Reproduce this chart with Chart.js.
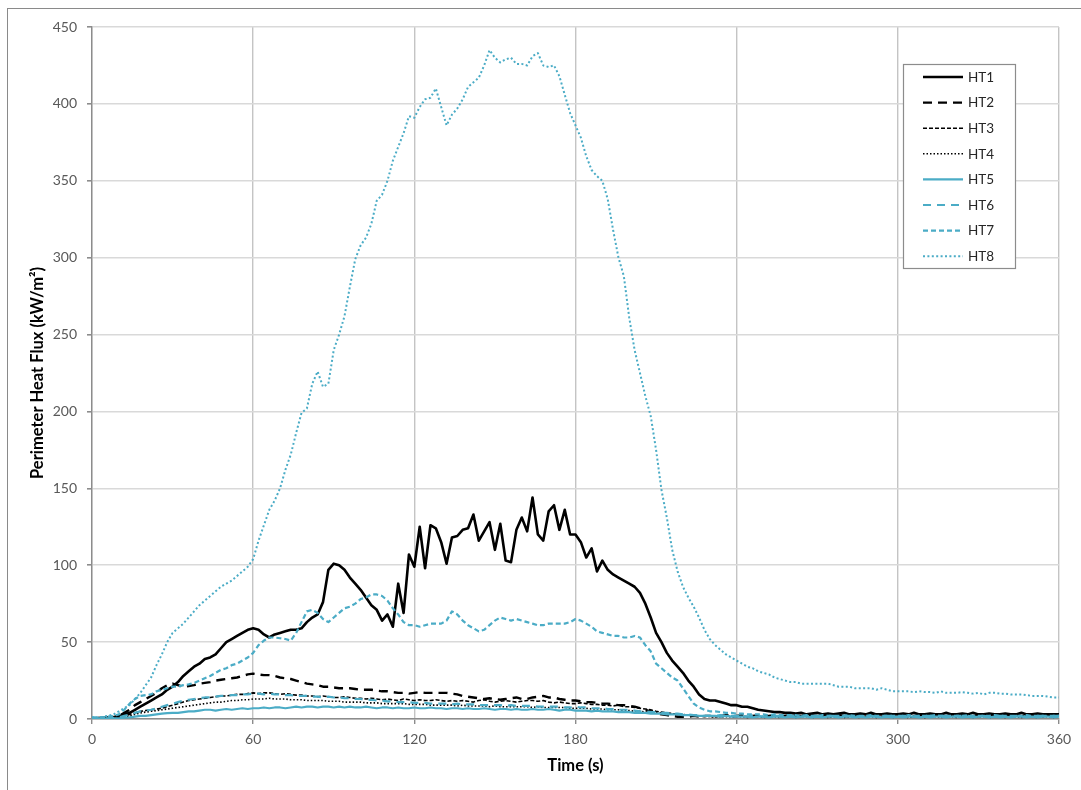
<!DOCTYPE html>
<html>
<head>
<meta charset="utf-8">
<script src="https://cdn.jsdelivr.net/npm/chart.js@4.4.1/dist/chart.umd.min.js"></script>
<style>
  html, body { margin: 0; padding: 0; background: #ffffff; }
  #wrap { position: relative; width: 1081px; height: 790px; overflow: hidden; }
  #frame { position: absolute; left: 7px; top: 8px; right: -2px; bottom: -2px;
           border-left: 1px solid #8a8a8a; border-top: 1px solid #8a8a8a; pointer-events: none; }
  canvas { display: block; }
</style>
</head>
<body>
<div id="wrap">
  <canvas id="chart" width="1081" height="790"></canvas>
  <div id="frame"></div>
</div>
<script>
// Sampling grid: one reading every 2 s from 0 to 360 s
const seconds = Array.from({ length: 181 }, (_, i) => i * 2);

const seriesNames = ['HT1', 'HT2', 'HT3', 'HT4', 'HT5', 'HT6', 'HT7', 'HT8'];
const xTicks = [0, 60, 120, 180, 240, 300, 360];
const yTicks = [0, 50, 100, 150, 200, 250, 300, 350, 400, 450];

// Heat flux readings (kW/m²), 10 readings per row = 20 s per row
const ht1 = [
  0.5, 0.6, 0.8, 1, 1.2, 2, 3, 4, 6, 8,
  10, 12, 14, 16, 19, 21, 24, 28, 31, 34,
  36, 39, 40, 42, 46, 50, 52, 54, 56, 58,
  59, 58, 55, 53, 55, 56, 57, 58, 58, 59,
  63, 66, 68, 76, 97, 101, 100, 97, 92, 88,
  84, 79, 74, 71, 64, 68, 60, 88, 69, 107,
  99, 125, 98, 126, 124, 115, 101, 118, 119, 123,
  124, 133, 116, 122, 128, 110, 127, 103, 102, 123,
  131, 122, 144, 120, 116, 135, 139, 123, 136, 120,
  120, 115, 105, 111, 96, 103, 97, 94, 92, 90,
  88, 86, 82, 75, 66, 56, 50, 43, 38, 34,
  30, 25, 21, 16, 13, 12, 12, 11, 10, 9,
  9, 8, 8, 7, 6, 5.5, 5, 4.5, 4.5, 4,
  4, 3.5, 4, 3, 3.5, 4, 3, 3.5, 3, 3.5,
  4, 3, 3, 3.5, 3, 4, 3, 3, 3.5, 3,
  3, 3.5, 3, 4, 3, 3, 3.5, 3, 3, 4,
  3, 3, 3.5, 3, 4, 3, 3, 3.5, 3, 3,
  3.5, 3, 3, 4, 3, 3, 3.5, 3, 3, 3,
  3
];

const ht2 = [
  0.5, 0.5, 0.6, 0.8, 1, 2, 4, 6, 9, 11,
  13, 15, 17, 20, 22, 23, 22, 21, 21.5, 22,
  23, 23.5, 24, 25, 25.5, 26, 26.5, 27, 28, 29,
  29.5, 29, 28.5, 28.5, 28, 27, 26.5, 26, 25, 24,
  23, 22.5, 22, 21, 21, 20.5, 20, 20, 20, 19.5,
  19, 19, 19, 18.5, 18, 18, 17.5, 17, 17, 16.5,
  17, 17.5, 17, 17, 17, 17, 17, 16.5, 16, 15,
  14.5, 14, 13.5, 13, 13.5, 13, 12.5, 13, 13.5, 14,
  13, 13, 14, 14.5, 15, 14, 14, 13, 12.5, 12,
  12, 11.5, 11, 11, 10.5, 10, 10, 9.5, 9, 9,
  8.5, 8, 7, 6, 5, 4, 3, 2.5, 2, 1.5,
  1.5, 1.5, 2, 1.5, 2, 2, 1.5, 2, 2.5, 2,
  2, 2.5, 2, 2, 2.5, 2, 2, 2.5, 2, 2,
  2.5, 2, 2, 2.5, 2, 2, 2.5, 2, 2, 2.5,
  2, 2, 2.5, 2, 2, 2.5, 2, 2, 2.5, 2,
  2, 2.5, 2, 2, 2.5, 2, 2, 2.5, 2, 2,
  2.5, 2, 2, 2.5, 2, 2, 2.5, 2, 2, 2.5,
  2, 2, 2.5, 2, 2, 2.5, 2, 2, 2.5, 2,
  2
];

const ht3 = [
  0.5, 0.5, 0.5, 0.8, 1, 1, 2, 3, 4, 5,
  5.5, 6, 6.5, 7, 8, 9, 10, 11, 12, 12.5,
  13, 13.5, 14, 14.5, 15, 15, 15.5, 16, 16, 16.5,
  17, 16.5, 17, 17, 16.5, 16, 16.5, 16, 15.5, 15.5,
  15, 15, 14.5, 15, 14.5, 14, 14, 14.5, 14, 13.5,
  13.5, 13, 13.5, 13, 12.5, 13, 12.5, 12, 13, 12.5,
  12, 12.5, 12, 12, 12.5, 12, 11.5, 12, 11.5, 12,
  11.5, 11, 12, 12.5, 11.5, 11, 11.5, 12, 11.5, 11,
  11.5, 12, 12, 11.5, 12, 11, 10.5, 11, 10.5, 10,
  10, 10.5, 10, 9.5, 9.5, 9, 9, 8.5, 9, 8,
  8, 7.5, 7, 6.5, 6, 5, 4.5, 4, 3.5, 3,
  2.5, 2.5, 2, 2, 1.5, 2, 1.5, 1.5, 2, 1.5,
  1.5, 2, 1.5, 1.5, 2, 1.5, 1.5, 2, 1.5, 1.5,
  2, 1.5, 1.5, 2, 1.5, 1.5, 2, 1.5, 1.5, 2,
  1.5, 1.5, 2, 1.5, 1.5, 2, 1.5, 1.5, 2, 1.5,
  1.5, 2, 1.5, 1.5, 2, 1.5, 1.5, 2, 1.5, 1.5,
  2, 1.5, 1.5, 2, 1.5, 1.5, 2, 1.5, 1.5, 2,
  1.5, 1.5, 2, 1.5, 1.5, 2, 1.5, 1.5, 2, 1.5,
  1.5
];

const ht4 = [
  0.5, 0.5, 0.5, 0.5, 0.8, 1, 1.5, 2, 3, 4,
  4.5, 5, 5.5, 6, 6.5, 7, 7.5, 8, 8.5, 9,
  9.5, 10, 10.5, 11, 11, 11.5, 12, 12, 12.5, 12.5,
  13, 13, 13, 13.5, 13, 13, 13, 12.5, 12.5, 12.5,
  12, 12, 12, 12, 11.5, 11.5, 11.5, 11, 11, 11,
  11, 10.5, 10.5, 10.5, 10, 10, 10, 10, 10, 9.5,
  9.5, 9.5, 9.5, 9, 9, 9, 9, 9, 8.5, 9,
  8.5, 8.5, 8.5, 8.5, 8, 8.5, 8, 8, 8, 8,
  8, 8, 7.5, 8, 7.5, 7.5, 7.5, 7.5, 7.5, 7,
  7, 7, 7, 6.5, 6.5, 6.5, 6, 6, 6, 5.5,
  5.5, 5, 5, 4.5, 4.5, 4, 4, 3.5, 3.5, 3,
  3, 2.5, 2.5, 2, 2, 1.5, 1.5, 1.5, 1.5, 1.5,
  1.5, 1.5, 1, 1.5, 1.5, 1, 1.5, 1.5, 1, 1.5,
  1.5, 1, 1.5, 1.5, 1, 1.5, 1.5, 1, 1.5, 1.5,
  1, 1.5, 1.5, 1, 1.5, 1.5, 1, 1.5, 1.5, 1,
  1.5, 1.5, 1, 1.5, 1.5, 1, 1.5, 1.5, 1, 1.5,
  1.5, 1, 1.5, 1.5, 1, 1.5, 1.5, 1, 1.5, 1.5,
  1, 1.5, 1.5, 1, 1.5, 1.5, 1, 1.5, 1.5, 1,
  1.5
];

const ht5 = [
  0.3, 0.3, 0.3, 0.3, 0.4, 0.5, 0.8, 1, 1.5, 2,
  2, 2.5, 3, 3.5, 3.8, 4, 4, 4.5, 5, 5,
  5.5, 6, 6, 5.5, 6, 6.5, 6, 6.5, 7, 6.5,
  7, 7, 7.5, 7, 7.5, 7.5, 7, 7.5, 8, 7.5,
  8, 8, 7.5, 8, 8, 7.5, 8, 7.5, 8, 7.5,
  7.5, 8, 7.5, 7, 7.5, 7.5, 7, 7.5, 7, 7,
  7.5, 7, 7, 7.5, 7, 7, 6.5, 7, 7, 6.5,
  7, 6.5, 6.5, 7, 6.5, 6, 6.5, 6.5, 6, 6.5,
  6, 6, 6.5, 6, 6, 6.5, 6, 5.5, 6, 6,
  5.5, 5.5, 5.5, 5, 5.5, 5, 5, 5, 4.5, 4.5,
  4.5, 4, 4, 4, 3.5, 3.5, 3.5, 3, 3, 3,
  2.5, 2.5, 2.5, 2, 2, 2, 2, 1.5, 2, 1.5,
  1.5, 1.5, 1.5, 1, 1.5, 1.5, 1, 1.5, 1.5, 1,
  1.5, 1, 1.5, 1.5, 1, 1.5, 1, 1.5, 1.5, 1,
  1.5, 1.5, 1, 1.5, 1, 1.5, 1.5, 1, 1.5, 1,
  1.5, 1, 1.5, 1.5, 1, 1.5, 1, 1.5, 1.5, 1,
  1.5, 1.5, 1, 1.5, 1, 1.5, 1.5, 1, 1.5, 1,
  1.5, 1, 1.5, 1.5, 1, 1.5, 1, 1.5, 1.5, 1,
  1.5
];

const ht6 = [
  0.5, 0.5, 0.5, 0.5, 0.8, 1, 2, 3, 4, 5,
  5.5, 6, 7, 8, 9, 10, 11, 12, 12.5, 13,
  13.5, 14, 14, 14.5, 15, 15, 15.5, 15.5, 16, 16,
  16.5, 16.5, 16, 16.5, 16, 16, 15.5, 15.5, 15, 15,
  15, 14.5, 14.5, 14, 14.5, 14, 14, 13.5, 13.5, 13,
  13, 12.5, 12.5, 12, 12, 11.5, 11.5, 11, 11, 11,
  10.5, 10.5, 10.5, 10, 10, 10, 10, 9.5, 10, 9.5,
  9.5, 9.5, 9, 9, 9, 9, 9, 8.5, 9, 8.5,
  8.5, 8.5, 8.5, 8, 8, 8, 8, 8, 7.5, 7.5,
  8, 7.5, 7.5, 7, 7, 7, 6.5, 6.5, 6, 6,
  6, 5.5, 5, 5, 4.5, 4.5, 4, 4, 3.5, 3.5,
  3, 3, 2.5, 2.5, 2, 2, 2, 2.5, 2, 2,
  2, 2, 1.5, 2, 2, 1.5, 2, 2, 2, 1.5,
  2, 2, 1.5, 2, 2, 2, 1.5, 2, 2, 1.5,
  2, 2, 2, 1.5, 2, 2, 1.5, 2, 2, 2,
  1.5, 2, 2, 1.5, 2, 2, 2, 1.5, 2, 2,
  1.5, 2, 2, 2, 1.5, 2, 2, 1.5, 2, 2,
  2, 1.5, 2, 2, 1.5, 2, 2, 2, 1.5, 2,
  2
];

const ht7 = [
  1, 1, 1, 1.5, 2, 3, 6, 10, 13, 15,
  15.5, 16, 18, 19, 20, 21, 21, 22, 22.5, 23.5,
  25, 26.5, 28, 30, 32, 33, 35, 36, 38, 40,
  43, 48, 51, 53, 53, 52.5, 52, 51, 56, 63,
  70, 71, 69, 65, 63, 66, 69, 72, 73, 75,
  78, 79, 81, 81, 80, 77, 72, 68, 63, 61,
  61, 60, 61, 62, 62, 62, 64, 70, 68, 64,
  61, 59, 57, 58, 61, 64, 66, 65, 64, 65,
  64, 63, 62, 61, 61, 62, 62, 62, 62, 63,
  65, 64, 62, 60, 57, 56, 55, 54, 54, 53,
  53, 54, 53, 48, 44, 36, 33, 30, 27, 25,
  20, 15, 10, 7.5, 6, 5, 5, 4.5, 4, 4,
  3.5, 3.5, 3, 3, 3, 3, 2.5, 3, 2.5, 2.5,
  2.5, 2.5, 2, 2.5, 2, 2, 2.5, 2, 2, 2,
  2, 2.5, 2, 2, 2, 2.5, 2, 2, 2, 2,
  2, 2, 2.5, 2, 2, 2, 2, 2.5, 2, 2,
  2, 2, 2, 2.5, 2, 2, 2, 2, 2.5, 2,
  2, 2, 2, 2, 2.5, 2, 2, 2, 2, 2,
  2
];

const ht8 = [
  1, 1, 1.5, 2, 3, 5, 7, 9, 13, 17,
  22, 27, 35, 42, 50, 56, 59, 62, 66, 70,
  74, 77, 80, 83, 86, 88, 90, 93, 96, 99,
  104, 116, 126, 136, 142, 150, 162, 172, 186, 199,
  202, 218, 226, 216, 218, 240, 250, 262, 281, 299,
  308, 313, 322, 337, 341, 350, 363, 372, 381, 392,
  391, 398, 403, 404, 410, 398, 386, 393, 397, 403,
  411, 414, 417, 425, 435, 430, 427, 429, 430, 426,
  426, 425, 431, 433, 425, 424, 425, 418, 406, 394,
  386, 378, 366, 357, 353, 350, 338, 318, 300, 288,
  261, 240, 225, 210, 197, 175, 149, 131, 110, 96,
  86, 79, 73, 66, 58, 52, 48, 45, 42, 40,
  38, 36, 34, 33, 31, 30, 29, 27, 26, 25,
  24, 24, 23, 23, 23, 23, 23, 23, 22, 21,
  21, 21, 20, 20, 20, 20, 19, 20, 19, 18,
  18, 18, 18, 17.5, 18, 17.5, 17.5, 17, 18, 17,
  17, 17, 17.5, 17, 16.5, 17, 16, 17, 17, 16.5,
  16.5, 16, 16, 16, 15.5, 15, 15, 15, 14.5, 14,
  14
];

const seriesValues = [ht1, ht2, ht3, ht4, ht5, ht6, ht7, ht8];
seriesValues.forEach((vals, i) => {
  if (vals.length !== seconds.length) {
    throw new Error(seriesNames[i] + ' has ' + vals.length + ' readings, expected ' + seconds.length);
  }
});

const BLACK = '#000000';
const CYAN = '#4bacc6';
const lineStyles = [
  { color: BLACK, width: 2.6, dash: [] },
  { color: BLACK, width: 2.4, dash: [9, 6] },
  { color: BLACK, width: 1.6, dash: [4, 2] },
  { color: BLACK, width: 1.6, dash: [1.5, 2] },
  { color: CYAN,  width: 2.2, dash: [] },
  { color: CYAN,  width: 2.2, dash: [8, 6] },
  { color: CYAN,  width: 2.2, dash: [5, 3] },
  { color: CYAN,  width: 2.0, dash: [2, 2.4] }
];

const datasets = seriesNames.map((name, i) => ({
  label: name,
  data: seconds.map((t, k) => ({ x: t, y: seriesValues[i][k] })),
  borderColor: lineStyles[i].color,
  backgroundColor: lineStyles[i].color,
  borderWidth: lineStyles[i].width,
  borderDash: lineStyles[i].dash,
  borderCapStyle: 'butt',
  borderJoinStyle: 'round',
  pointRadius: 0,
  tension: 0,
  fill: false,
  order: seriesNames.length - i
}));

const FONT = 'Lato, "Liberation Sans", "DejaVu Sans", sans-serif';

// Boxed legend inside the plot, top right
const boxedLegend = {
  id: 'boxedLegend',
  afterDraw(chart) {
    const { ctx, chartArea } = chart;
    const boxW = 112, boxH = 204;
    const left = chartArea.right - 156;
    const top = chartArea.top + 37;
    ctx.save();
    ctx.fillStyle = '#ffffff';
    ctx.fillRect(left, top, boxW, boxH);
    ctx.strokeStyle = '#8c8c8c';
    ctx.lineWidth = 1.2;
    ctx.strokeRect(left + 0.5, top + 0.5, boxW, boxH);
    const rowGap = 25.6;
    chart.data.datasets.forEach((ds, i) => {
      const y = top + 13 + i * rowGap;
      ctx.beginPath();
      ctx.setLineDash(ds.borderDash || []);
      ctx.strokeStyle = ds.borderColor;
      ctx.lineWidth = ds.borderWidth;
      ctx.lineCap = 'butt';
      ctx.moveTo(left + 20, y);
      ctx.lineTo(left + 60, y);
      ctx.stroke();
      ctx.setLineDash([]);
      ctx.fillStyle = '#262626';
      ctx.font = '13.5px ' + FONT;
      ctx.textBaseline = 'middle';
      ctx.textAlign = 'left';
      ctx.fillText(ds.label, left + 65, y + 0.5);
    });
    ctx.restore();
  }
};

new Chart(document.getElementById('chart'), {
  type: 'line',
  data: { datasets },
  options: {
    responsive: false,
    animation: false,
    devicePixelRatio: 1,
    layout: { padding: { left: 0, right: 22, top: 27, bottom: 0 } },
    plugins: {
      legend: { display: false },
      tooltip: { enabled: false }
    },
    scales: {
      x: {
        type: 'linear',
        min: 0,
        max: 360,
        afterBuildTicks(scale) { scale.ticks = xTicks.map(v => ({ value: v })); },
        afterFit(scale) { scale.height = 71; },
        grid: { color: '#c4c4c4', lineWidth: 1.4, tickLength: 5, tickColor: '#8c8c8c', drawOnChartArea: true },
        border: { color: '#8c8c8c', width: 1.4 },
        ticks: { color: '#595959', font: { family: FONT, size: 14 }, padding: 7, maxRotation: 0 },
        title: {
          display: true,
          text: 'Time (s)',
          color: '#000000',
          font: { family: FONT, size: 16.5, weight: 'bold' },
          padding: { top: 0, bottom: 14 }
        }
      },
      y: {
        type: 'linear',
        min: 0,
        max: 450,
        afterBuildTicks(scale) { scale.ticks = yTicks.map(v => ({ value: v })); },
        afterFit(scale) { scale.width = 92; },
        grid: { color: '#d9d9d9', lineWidth: 1.6, tickLength: 5, tickColor: '#8c8c8c' },
        border: { color: '#8c8c8c', width: 1.4 },
        ticks: { color: '#595959', font: { family: FONT, size: 14 }, padding: 10 },
        title: {
          display: true,
          text: 'Perimeter Heat Flux (kW/m²)',
          color: '#000000',
          font: { family: FONT, size: 16.5, weight: 'bold' },
          padding: { top: 28, bottom: 0 }
        }
      }
    }
  },
  plugins: [boxedLegend]
});
</script>
</body>
</html>
